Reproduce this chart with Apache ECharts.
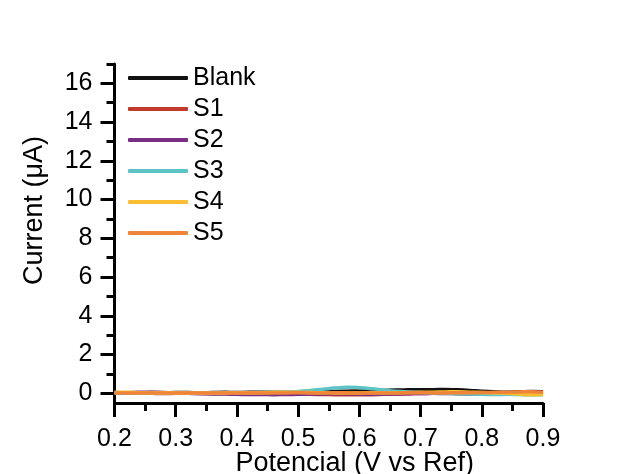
<!DOCTYPE html>
<html>
<head>
<meta charset="utf-8">
<script src="https://cdn.jsdelivr.net/npm/echarts@6/dist/echarts.min.js"></script>
<style>html,body{margin:0;padding:0;background:#fff;}#c{width:623px;height:474px;}</style>
</head>
<body>
<div id="c"></div>
<script>
var potential = [0.20,0.22,0.24,0.26,0.28,0.30,0.32,0.34,0.36,0.38,0.40,0.42,0.44,0.46,0.48,0.50,0.52,0.54,0.56,0.58,0.60,0.62,0.64,0.66,0.68,0.70,0.72,0.74,0.76,0.78,0.80,0.82,0.84,0.86,0.88,0.90];
var seriesNames = ['Blank','S1','S2','S3','S4','S5'];
var blank = [0.04,0.03,0.03,0.04,0.03,0.04,0.04,0.03,0.04,0.05,0.04,0.05,0.05,0.06,0.06,0.07,0.08,0.09,0.10,0.11,0.12,0.13,0.15,0.17,0.18,0.19,0.19,0.20,0.18,0.15,0.11,0.08,0.06,0.07,0.09,0.08];
var s1 = [0.01,0.00,0.01,0.00,-0.01,0.00,0.01,0.00,-0.01,0.00,-0.02,-0.01,0.00,-0.01,-0.03,-0.04,-0.05,-0.06,-0.07,-0.08,-0.08,-0.07,-0.05,-0.04,-0.02,-0.01,0.00,0.01,0.00,-0.02,-0.03,-0.02,0.00,0.02,0.03,0.02];
var s2 = [0.02,0.03,0.05,0.06,0.04,0.02,0.00,-0.02,-0.03,-0.04,-0.05,-0.06,-0.06,-0.07,-0.06,-0.05,-0.04,-0.03,-0.02,-0.03,-0.04,-0.05,-0.04,-0.03,-0.02,-0.01,0.00,-0.01,-0.02,-0.03,-0.02,0.00,0.02,0.04,0.06,0.05];
var s3 = [0.00,0.01,0.00,0.01,0.00,0.01,0.00,0.01,0.02,0.02,0.03,0.03,0.04,0.05,0.07,0.10,0.15,0.21,0.27,0.31,0.29,0.24,0.17,0.11,0.07,0.04,0.02,0.00,-0.02,-0.04,-0.05,-0.06,-0.05,-0.06,-0.08,-0.07];
var s4 = [0.06,0.05,0.03,0.02,0.03,0.02,0.01,0.02,0.01,0.02,0.03,0.02,0.03,0.05,0.06,0.05,0.04,0.03,0.02,0.01,0.02,0.03,0.02,0.03,0.04,0.05,0.06,0.07,0.08,0.06,0.04,0.02,0.00,-0.04,-0.08,-0.05];
var s5 = [0.02,0.01,0.01,0.02,0.01,0.01,0.02,0.01,0.01,0.01,0.02,0.01,0.01,0.02,0.02,0.03,0.02,0.02,0.03,0.02,0.02,0.01,0.02,0.02,0.03,0.03,0.02,0.02,0.03,0.03,0.04,0.05,0.06,0.07,0.08,0.06];
var xMajorTicks = [0.2,0.3,0.4,0.5,0.6,0.7,0.8,0.9];
var xMinorTicks = [0.25,0.35,0.45,0.55,0.65,0.75,0.85];
var yMajorTicks = [0,2,4,6,8,10,12,14,16];
var yMinorTicks = [1,3,5,7,9,11,13,15,17];

var colors = ['#111111','#c23a2b','#7a2e83','#5ec3c6','#fbbd32','#ef8538'];
var allData = [blank, s1, s2, s3, s4, s5];
var FONT = 'Liberation Sans, Arial, sans-serif';

function pairs(ys){ return potential.map(function(x,i){ return [x, ys[i]]; }); }

var chart = echarts.init(document.getElementById('c'), null, {renderer:'canvas'});
var axisLineStyle = {color:'#000', width:3};
var option = {
  backgroundColor:'#ffffff',
  animation:false,
  grid:{left:114.5, right:80, top:64, bottom:71, containLabel:false, outerBoundsMode:'none'},
  legend:{
    orient:'vertical', left:128, top:65.5, padding:0, itemWidth:60, itemHeight:4, itemGap:6,
    icon:'roundRect',
    data:seriesNames,
    textStyle:{fontFamily:FONT, fontSize:25, color:'#000'}
  },
  xAxis:[{
    type:'value', min:0.2, max:0.9, position:'bottom',
    name:'Potencial (V vs Ref)', nameLocation:'middle', nameGap:47, nameMoveOverlap:false,
    nameTextStyle:{fontFamily:FONT, fontSize:27, color:'#000', padding:[0,0,0,52]},
    axisLine:{show:true, onZero:false, lineStyle:axisLineStyle},
    axisTick:{show:true, inside:false, length:14, customValues:xMajorTicks, lineStyle:{color:'#000', width:3}},
    axisLabel:{show:true, margin:24, customValues:xMajorTicks, fontFamily:FONT, fontSize:25, color:'#000',
      formatter:function(v){ return v.toFixed(1); }},
    splitLine:{show:false}
  },{
    type:'value', min:0.2, max:0.9, position:'bottom',
    axisLine:{show:false, onZero:false},
    axisTick:{show:true, inside:false, length:8, customValues:xMinorTicks, lineStyle:{color:'#000', width:3}},
    axisLabel:{show:false},
    splitLine:{show:false}
  }],
  yAxis:[{
    type:'value', min:-0.5, max:17, position:'left',
    name:'Current (\u03bcA)', nameLocation:'middle', nameGap:66, nameRotate:90, nameMoveOverlap:false,
    nameTextStyle:{fontFamily:FONT, fontSize:27, color:'#000', padding:[0,0,0,46]},
    axisLine:{show:true, onZero:false, lineStyle:axisLineStyle},
    axisTick:{show:true, inside:false, length:14, customValues:yMajorTicks, lineStyle:{color:'#000', width:3}},
    axisLabel:{show:true, margin:22, customValues:yMajorTicks, fontFamily:FONT, fontSize:25, color:'#000'},
    splitLine:{show:false}
  },{
    type:'value', min:-0.5, max:17, position:'left',
    axisLine:{show:false, onZero:false},
    axisTick:{show:true, inside:false, length:8, customValues:yMinorTicks, lineStyle:{color:'#000', width:3}},
    axisLabel:{show:false},
    splitLine:{show:false}
  }],
  series: seriesNames.map(function(n,i){
    return {
      name:n, type:'line', xAxisIndex:0, yAxisIndex:0, data:pairs(allData[i]),
      showSymbol:false, symbol:'none', smooth:true, clip:false,
      color:colors[i],
      lineStyle:{color:colors[i], width:3.5},
      itemStyle:{color:colors[i]}
    };
  })
};
chart.setOption(option);
</script>
</body>
</html>
